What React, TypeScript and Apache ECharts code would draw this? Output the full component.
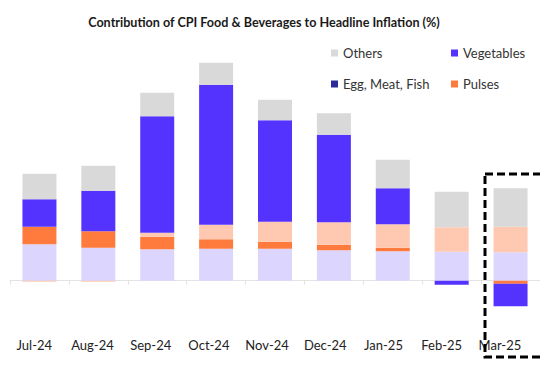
import React, { useEffect, useRef } from "react";
import * as echarts from "echarts";

const months = ["Jul-24", "Aug-24", "Sep-24", "Oct-24", "Nov-24", "Dec-24", "Jan-25", "Feb-25", "Mar-25"];
const cereals = [0.73, 0.66, 0.63, 0.64, 0.64, 0.61, 0.59, 0.58, 0.57];
const pulses = [0.35, 0.33, 0.25, 0.19, 0.14, 0.11, 0.07, 0.0, -0.06];
const oilsFats = [-0.02, -0.02, 0.08, 0.29, 0.4, 0.45, 0.47, 0.49, 0.51];
const eggMeatFish = [0, 0, 0, 0, 0, 0, 0, 0, 0];
const vegetables = [0.55, 0.81, 2.33, 2.8, 2.03, 1.75, 0.72, -0.08, -0.45];
const others = [0.51, 0.5, 0.47, 0.44, 0.41, 0.43, 0.57, 0.71, 0.77];

const FONT = "Lato, 'Noto Sans', sans-serif";

export default function App() {
  const ref = useRef<HTMLDivElement>(null);
  useEffect(() => {
    document.body.style.margin = "0";
    const chart = echarts.init(ref.current!, null, { renderer: "svg" });
    const mk = (name: string, data: number[], color: string) => ({
      name,
      type: "bar",
      stack: "food",
      data,
      xAxisIndex: 0,
      yAxisIndex: 0,
      barWidth: 34,
      itemStyle: { color },
    });
    const legendText = { fontFamily: FONT, fontSize: 13, color: "#333", lineHeight: 14 };
    chart.setOption({
      animation: false,
      backgroundColor: "#ffffff",
      title: {
        text: "Contribution of CPI Food & Beverages to Headline Inflation (%)",
        left: 259,
        textAlign: "center",
        top: 11,
        textStyle: { fontFamily: FONT, fontSize: 12.6, fontWeight: "bold", color: "#1a1a1a" },
      },
      legend: [
        {
          data: ["Others", "Egg, Meat, Fish"],
          orient: "vertical",
          left: 326,
          top: 41,
          itemWidth: 7,
          itemHeight: 7,
          itemGap: 17,
          icon: "rect",
          textStyle: legendText,
        },
        {
          data: ["Vegetables", "Pulses"],
          orient: "vertical",
          left: 446,
          top: 41,
          itemWidth: 7,
          itemHeight: 7,
          itemGap: 17,
          icon: "rect",
          textStyle: legendText,
        },
      ],
      grid: [
        { left: 10, width: 536, top: 30.7, height: 300 },
        { left: 5.2, width: 523.8, top: 30.7, height: 300 },
      ],
      xAxis: [
        {
          type: "category",
          data: months,
          gridIndex: 0,
          axisLine: { onZero: true, lineStyle: { color: "#e3e3e3", width: 1 } },
          axisTick: { show: true, length: 4, lineStyle: { color: "#e3e3e3" } },
          axisLabel: { show: false },
        },
        {
          type: "category",
          data: months,
          gridIndex: 1,
          position: "bottom",
          axisLine: { show: false, onZero: false },
          axisTick: { show: false },
          axisLabel: { margin: 8, fontFamily: FONT, fontSize: 13, color: "#222" },
        },
      ],
      yAxis: [
        { type: "value", gridIndex: 0, min: -1, max: 5, show: false },
        { type: "value", gridIndex: 1, min: -1, max: 5, show: false },
      ],
      graphic: [
        {
          type: "rect",
          shape: { x: 485, y: 174, width: 80, height: 183 },
          style: { fill: "none", stroke: "#000", lineWidth: 3, lineDash: [8, 4] },
          z: 100,
        },
      ],
      series: [
        mk("Cereals", cereals, "#DCD6FF"),
        mk("Pulses", pulses, "#FF7A3D"),
        mk("Oils & Fats", oilsFats, "#FFC8B0"),
        mk("Egg, Meat, Fish", eggMeatFish, "#2B2C95"),
        mk("Vegetables", vegetables, "#5533FF"),
        mk("Others", others, "#D9D9D9"),
      ],
    });
    return () => chart.dispose();
  }, []);
  return <div ref={ref} style={{ width: 540, height: 370 }} />;
}
